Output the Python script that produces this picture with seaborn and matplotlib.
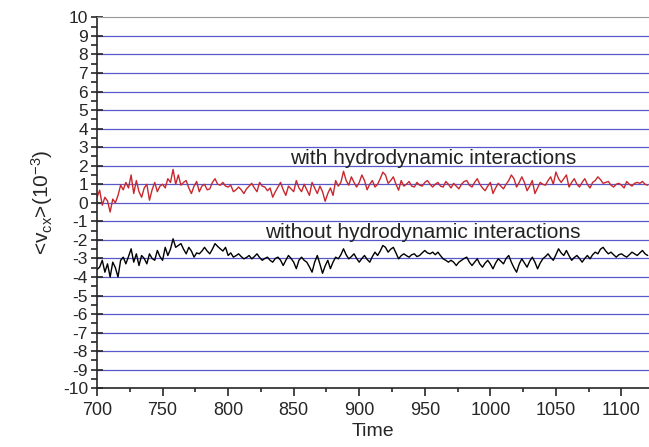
import numpy as np
import pandas as pd
import matplotlib
matplotlib.use("Agg")
import matplotlib.pyplot as plt
import seaborn as sns
from matplotlib.ticker import MultipleLocator

time = np.arange(700, 1121, 2)

with_hi = [
    0.3, 0.68, -0.13, 0.3, 0.1, -0.5, 0.2, 0.0, 0.4, 0.95,
    0.7, 1.1, 0.8, 1.5, 0.5, 1.2, 0.6, 0.3, 0.8, 1.0,
    0.14, 0.7, 1.1, 0.6, 0.9, 1.0, 0.8, 1.3, 1.1, 1.8,
    1.0, 1.5, 0.95, 1.1, 1.2, 0.8, 0.5, 0.9, 1.15, 0.6,
    0.9, 1.0, 0.7, 0.75, 1.1, 1.3, 1.0, 0.95, 1.1, 0.9,
    0.85, 0.95, 0.6, 0.7, 0.85, 0.7, 0.5, 0.75, 0.9, 1.05,
    0.8, 0.6, 1.1, 0.9, 0.85, 0.65, 0.8, 0.3, 0.6, 0.85,
    1.1, 0.7, 0.4, 0.9, 0.75, 0.6, 1.2, 0.8, 0.6, 1.0,
    0.7, 0.4, 1.1, 0.8, 0.5, 0.9, 0.6, 0.08, 0.5, 0.8,
    0.4, 1.2, 0.9, 1.1, 1.7, 1.2, 0.95, 1.4, 1.1, 0.85,
    1.1, 1.5, 1.2, 0.7, 1.0, 1.2, 0.85, 1.0, 1.3, 1.65,
    1.5, 1.05, 1.2, 1.4, 1.0, 0.68, 1.2, 0.9, 1.0, 1.15,
    0.9, 0.85, 1.1, 0.95, 0.9, 1.1, 1.2, 1.0, 0.85, 1.0,
    1.1, 0.9, 0.85, 1.15, 1.0, 0.8, 1.05, 0.9, 0.75, 1.0,
    1.15, 1.2, 0.95, 0.85, 1.1, 1.3, 1.0, 0.8, 0.65, 0.9,
    1.1, 0.5, 0.8, 1.05, 0.9, 0.75, 1.0, 1.2, 1.5, 1.3,
    0.85, 1.1, 1.4, 1.1, 0.65, 0.9, 1.2, 0.5, 0.8, 1.1,
    1.0, 0.95, 1.2, 1.4, 1.0, 1.66, 1.3, 1.1, 1.3, 1.5,
    0.85, 1.1, 1.3, 1.0, 0.85, 1.1, 1.3, 1.0, 0.8, 1.1,
    1.2, 1.4, 1.25, 1.05, 1.1, 1.15, 0.95, 0.85, 1.0, 1.05,
    0.95, 0.8, 1.15, 1.0, 0.9, 1.05, 1.1, 1.05, 1.15, 1.0,
    0.95,
]

without_hi = [
    -3.6, -3.47, -3.1, -3.74, -3.29, -4.0, -3.2, -3.5, -4.0, -3.1,
    -2.93, -3.29, -2.9, -2.48, -3.2, -2.75, -3.38, -2.84, -3.0, -3.29,
    -2.75, -3.0, -3.1, -2.57, -2.9, -3.1, -2.4, -2.84, -2.5, -1.94,
    -2.4, -2.3, -2.2, -2.5, -2.75, -2.4, -2.6, -2.93, -2.7, -2.75,
    -2.6, -2.4, -2.6, -2.75, -2.5, -2.2, -2.35, -2.48, -2.6, -2.4,
    -2.84, -2.7, -2.93, -2.85, -2.75, -2.9, -3.02, -2.95, -2.84, -3.02,
    -2.9, -2.75, -2.95, -3.1, -3.0, -2.93, -3.1, -3.2, -3.0, -2.93,
    -3.1, -3.38, -3.1, -2.84, -3.0, -3.2, -3.55, -3.1, -2.93, -3.1,
    -3.2, -3.45, -3.74, -3.2, -2.84, -3.3, -3.8, -3.4, -3.1, -3.55,
    -3.2, -2.93, -3.02, -2.8, -2.48, -2.8, -3.02, -2.9, -2.75, -3.0,
    -3.2, -3.0, -2.84, -3.05, -3.2, -2.9, -2.66, -2.84, -2.6, -2.3,
    -2.4, -2.66, -2.5, -2.4, -2.7, -3.02, -2.85, -2.75, -2.85, -2.93,
    -2.8, -2.75, -2.9, -2.84, -2.7, -2.57, -2.7, -2.75, -2.66, -2.8,
    -2.66, -2.85, -3.02, -3.1, -3.2, -3.1, -3.2, -3.38, -3.2, -3.1,
    -3.0, -2.93, -3.2, -3.38, -3.2, -3.02, -3.3, -3.47, -3.25, -3.1,
    -3.3, -3.56, -3.25, -3.02, -3.15, -3.29, -3.0, -2.84, -3.2, -3.5,
    -3.74, -3.3, -3.02, -3.25, -3.47, -3.15, -2.93, -3.2, -3.56, -3.25,
    -3.02, -2.9, -2.75, -2.95, -3.1, -2.8, -2.48, -2.7, -2.84, -2.57,
    -2.85, -3.1, -2.95, -2.84, -3.0, -3.2, -3.0, -2.84, -3.02, -2.8,
    -2.66, -2.75, -2.5, -2.4, -2.6, -2.75, -2.66, -2.8, -2.93, -2.8,
    -2.75, -2.85, -2.93, -2.8, -2.66, -2.75, -2.84, -2.7, -2.57, -2.75,
    -2.84,
]

sns.set_style("ticks")
plt.rcParams['font.family'] = ['Liberation Sans', 'DejaVu Sans']
plt.rcParams['mathtext.fontset'] = 'custom'
plt.rcParams['mathtext.rm'] = 'Liberation Sans'
plt.rcParams['mathtext.it'] = 'Liberation Sans'
plt.rcParams['axes.unicode_minus'] = False

df = pd.DataFrame({'Time': time, 'with': with_hi, 'without': without_hi})

fig = plt.figure(figsize=(6.49, 4.47), dpi=100)
ax = fig.add_axes([0.1495, 0.1313, 0.8505, 0.83])

# horizontal reference lines
for yv in range(-9, 10):
    ax.axhline(yv, color='#5858c8', lw=0.9, zorder=0)

sns.lineplot(data=df, x='Time', y='with', color='#c8282d', lw=1.0, ax=ax)
sns.lineplot(data=df, x='Time', y='without', color='black', lw=1.0, ax=ax)

ax.text(847, 2.1, 'with hydrodynamic interactions', fontsize=15, color='#222222')
ax.text(828, -1.9, 'without hydrodynamic interactions', fontsize=15, color='#222222')

ax.set_xlim(700, 1121)
ax.set_ylim(-10, 10)
ax.xaxis.set_major_locator(MultipleLocator(50))
ax.xaxis.set_minor_locator(MultipleLocator(25))
ax.yaxis.set_major_locator(MultipleLocator(1))
ax.yaxis.set_minor_locator(MultipleLocator(0.5))
ax.tick_params(axis='x', which='major', direction='out', length=6, width=1.2, labelsize=13, pad=4)
ax.tick_params(axis='x', which='minor', direction='out', length=3, width=1.2)
ax.tick_params(axis='y', which='major', direction='inout', length=9, width=1.2, labelsize=12.5, pad=2)
ax.tick_params(axis='y', which='minor', direction='out', length=4, width=1.2)

ax.spines['right'].set_visible(False)
ax.spines['top'].set_color('#999999')
ax.spines['left'].set_linewidth(1.2)
ax.spines['bottom'].set_linewidth(1.2)

ax.set_xlabel('Time', fontsize=14, labelpad=3)
ax.set_ylabel(r'<v$_{\mathrm{cx}}$>(10$^{-3}$)', fontsize=15, labelpad=6)

fig.savefig('out.png', dpi=100)
